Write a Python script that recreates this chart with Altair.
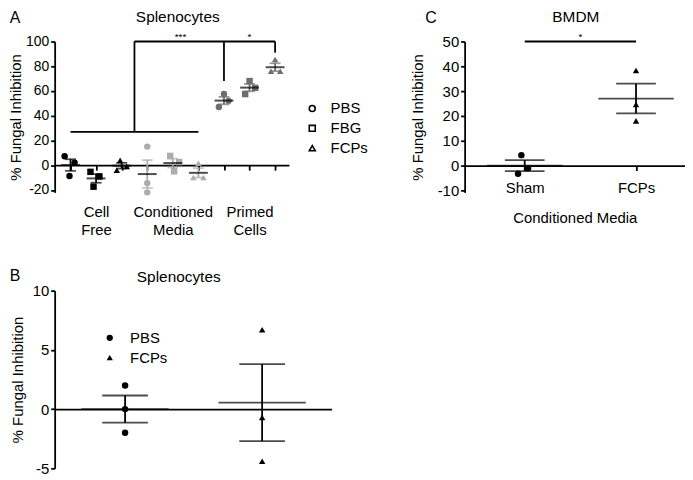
import altair as alt
import pandas as pd

FONT = "Liberation Sans"

# ---------------- Panel A : Splenocytes (3 x 3 groups) ----------------
a_categories = ["Cell Free", "Conditioned Media", "Primed Cells"]
a_cat_labels = [["Cell", "Free"], ["Conditioned", "Media"], ["Primed", "Cells"]]
a_treatments = ["PBS", "FBG", "FCPs"]
a_values = [[7.2, 2.0, -8.8], [-5.4, -9.2, -17.4], [3.9, -4.1, -1.0],
            [15.0, -14.5, -22.0], [7.5, 2.5, -5.0], [1.5, -10.0, -10.0],
            [57.5, 47.0, 52.0], [68.0, 57.5, 62.5], [85.5, 76.0, 76.0]]
a_jitter = [[-0.23, 0.16, -0.04], [-0.22, 0.13, -0.10], [-0.06, -0.19, 0.20],
            [0.0, 0.0, 0.0], [-0.10, 0.25, 0.05], [0.0, -0.20, 0.20],
            [0.0, -0.20, 0.18], [0.0, -0.17, 0.22], [0.0, -0.16, 0.20]]
a_mean = [0.1, -10.7, -0.4, -7.2, 1.7, -6.2, 52.2, 62.7, 79.2]
a_sem = [4.7, 3.5, 2.3, 11.3, 3.6, 3.8, 3.0, 3.0, 3.2]
a_brackets = [(1, 27, 6, 27), (3.5, 27, 3.5, 100), (3.5, 100, 9, 100),
              (7, 100, 7, 68), (9, 100, 9, 91)]
a_stars = [("***", 5.3, 100), ("*", 8.0, 100)]

# ---------------- Panel B : Splenocytes (PBS vs FCPs) ----------------
b_treatments = ["PBS", "FCPs"]
b_values = [[2.0, 0.0, -2.0], [6.7, -0.7, -4.4]]
b_mean = [0.0, 0.55]
b_sem = [1.15, 3.25]

# ---------------- Panel C : BMDM ----------------
c_groups = ["Sham", "FCPs"]
c_values = [[4.2, -3.3, -1.1], [38.3, 24.6, 18.0]]
c_jitter = [[-0.03, -0.06, 0.03], [0.0, 0.0, 0.0]]
c_mean = [0.0, 27.0]
c_sem = [2.2, 6.0]
c_brackets = [(1, 50, 2, 50)]
c_stars = [("*", 1.5, 50)]

LW = 1.8
PLAIN_LABEL = "'' + datum.value"   # plain hyphen minus, as in the original


def text_layer(text, x, y, size, baseline="middle"):
    return alt.Chart(pd.DataFrame({"t": [text]})).mark_text(
        fontSize=size, align="center", baseline=baseline, color="black", font=FONT
    ).encode(text="t:N", x=alt.value(x), y=alt.value(y))


def label_expr(positions, labels):
    expr = "''"
    for p, lab in reversed(list(zip(positions, labels))):
        if isinstance(lab, list):
            arr = "[" + ",".join("'" + s + "'" for s in lab) + "]"
        else:
            arr = "'" + lab + "'"
        expr = f"datum.value == {p} ? {arr} : ({expr})"
    return expr


def y_axis(values, title_pad, label_size):
    return alt.Axis(values=values, title="% Fungal Inhibition", titlePadding=title_pad,
                    titleFontSize=15, labelFontSize=label_size, tickSize=4, labelPadding=2,
                    grid=False, titleFontWeight="normal", labelExpr=PLAIN_LABEL)


# ======================= Panel A =======================
A_W, A_H = 236, 152
A_YD = [-22, 100]
A_OFF = -A_H * (0 - A_YD[0]) / (A_YD[1] - A_YD[0])
xA = alt.Scale(domain=[0.38, 9.54], nice=False, zero=False)
yA = alt.Scale(domain=A_YD, nice=False, zero=False)
colA = alt.Scale(domain=a_categories, range=["#000000", "#acacac", "#6e6e6e"])
shapeA = alt.Scale(domain=a_treatments, range=["circle", "square", "triangle-up"])
axXA = alt.Axis(values=list(range(1, 10)), offset=A_OFF, title=None, grid=False, tickSize=5,
                labelExpr=label_expr([2, 5, 8], a_cat_labels), labelPadding=35,
                labelFontSize=15, labelLineHeight=18, labelOverlap=False,
                labelFlush=False, labelBound=False)
axYA = y_axis([-20, 0, 20, 40, 60, 80, 100], 2, 14)

rows = []
for g in range(9):
    for v, j in zip(a_values[g], a_jitter[g]):
        rows.append({"pos": g + 1 + j, "val": v, "cat": a_categories[g // 3],
                     "trt": a_treatments[g % 3]})
dfA = pd.DataFrame(rows)
dfAs = pd.DataFrame({"pos": list(range(1, 10)), "mean": a_mean, "sem": a_sem,
                     "cat": [a_categories[g // 3] for g in range(9)]})
dfAb = pd.DataFrame(a_brackets, columns=["x", "y", "x2", "y2"])
dfAt = pd.DataFrame(a_stars, columns=["t", "x", "y"])


def XA(f):
    return alt.X(f, scale=xA, axis=axXA)


def YA(f):
    return alt.Y(f, scale=yA, axis=axYA)


colEncA = alt.Color("cat:N", scale=colA, legend=None)

ptsA = alt.Chart(dfA).mark_point(filled=True, size=42, opacity=1).encode(
    x=XA("pos:Q"), y=YA("val:Q"), color=colEncA,
    shape=alt.Shape("trt:N", scale=shapeA, legend=alt.Legend(
        title=None, orient="none", legendX=252, legendY=60, padding=0,
        labelFontSize=15, labelFont=FONT, labelOffset=11, rowPadding=4,
        symbolSize=36, symbolFillColor="white", symbolStrokeColor="black",
        symbolStrokeWidth=1.6)),
)
baseAs = alt.Chart(dfAs).transform_calculate(lo="datum.mean - datum.sem",
                                              hi="datum.mean + datum.sem")
whiskA = baseAs.mark_rule(strokeWidth=LW).encode(
    x=XA("pos:Q"), y=YA("lo:Q"), y2="hi:Q", color=colEncA)
capLoA = baseAs.mark_tick(orient="horizontal", size=11, thickness=LW).encode(
    x=XA("pos:Q"), y=YA("lo:Q"), color=colEncA)
capHiA = baseAs.mark_tick(orient="horizontal", size=11, thickness=LW).encode(
    x=XA("pos:Q"), y=YA("hi:Q"), color=colEncA)
meanA = baseAs.mark_tick(orient="horizontal", size=19, thickness=2, color="black").encode(
    x=XA("pos:Q"), y=YA("mean:Q"))
brA = alt.Chart(dfAb).mark_rule(strokeWidth=LW, color="black").encode(
    x=XA("x:Q"), x2="x2:Q", y=YA("y:Q"), y2="y2:Q")
stA = alt.Chart(dfAt).mark_text(fontSize=10, baseline="bottom", dy=0, color="black").encode(
    x=XA("x:Q"), y=YA("y:Q"), text="t:N")

panelA = alt.layer(
    ptsA, whiskA, capLoA, capHiA, meanA, brA, stA,
    text_layer("A", -40, -24, 16), text_layer("Splenocytes", 124, -25, 15.5),
).properties(width=A_W, height=A_H)

# ======================= Panel C =======================
C_W, C_H = 222, 152
C_YD = [-10.8, 50]
C_OFF = -C_H * (0 - C_YD[0]) / (C_YD[1] - C_YD[0])
xC = alt.Scale(domain=[0.46, 2.44], nice=False, zero=False)
yC = alt.Scale(domain=C_YD, nice=False, zero=False)
shapeC = alt.Scale(domain=c_groups, range=["circle", "triangle-up"])
axXC = alt.Axis(values=[1, 2], offset=C_OFF, title="Conditioned Media", titleFontSize=15,
                titlePadding=15, titleFontWeight="normal", grid=False, tickSize=5,
                labelExpr=label_expr([1, 2], c_groups), labelPadding=10, labelFontSize=15,
                labelFlush=False, labelBound=False)
axYC = y_axis([-10, 0, 10, 20, 30, 40, 50], 12, 15)

rows = []
for g in range(2):
    for v, j in zip(c_values[g], c_jitter[g]):
        rows.append({"pos": g + 1 + j, "val": v, "grp": c_groups[g]})
dfC = pd.DataFrame(rows)
dfCs = pd.DataFrame({"pos": [1, 2], "mean": c_mean, "sem": c_sem})
dfCb = pd.DataFrame(c_brackets, columns=["x", "y", "x2", "y2"])
dfCt = pd.DataFrame(c_stars, columns=["t", "x", "y"])


def XC(f):
    return alt.X(f, scale=xC, axis=axXC)


def YC(f):
    return alt.Y(f, scale=yC, axis=axYC)


ptsC = alt.Chart(dfC).mark_point(filled=True, size=42, opacity=1, color="black").encode(
    x=XC("pos:Q"), y=YC("val:Q"),
    shape=alt.Shape("grp:N", scale=shapeC, legend=None),
)
baseCs = alt.Chart(dfCs).transform_calculate(lo="datum.mean - datum.sem",
                                              hi="datum.mean + datum.sem")
whiskC = baseCs.mark_rule(strokeWidth=LW, color="black").encode(
    x=XC("pos:Q"), y=YC("lo:Q"), y2="hi:Q")
capLoC = baseCs.mark_tick(orient="horizontal", size=40, thickness=LW, color="black").encode(
    x=XC("pos:Q"), y=YC("lo:Q"))
capHiC = baseCs.mark_tick(orient="horizontal", size=40, thickness=LW, color="black").encode(
    x=XC("pos:Q"), y=YC("hi:Q"))
meanC = baseCs.mark_tick(orient="horizontal", size=76, thickness=LW, color="black").encode(
    x=XC("pos:Q"), y=YC("mean:Q"))
brC = alt.Chart(dfCb).mark_rule(strokeWidth=LW, color="black").encode(
    x=XC("x:Q"), x2="x2:Q", y=YC("y:Q"), y2="y2:Q")
stC = alt.Chart(dfCt).mark_text(fontSize=10, baseline="bottom", dy=0, color="black").encode(
    x=XC("x:Q"), y=YC("y:Q"), text="t:N")

panelC = alt.layer(
    ptsC, whiskC, capLoC, capHiC, meanC, brC, stC,
    text_layer("C", -34, -24, 16), text_layer("BMDM", 112, -25, 15.5),
).properties(width=C_W, height=C_H)

# ======================= Panel B =======================
B_W, B_H = 279, 179
B_YD = [-5, 10]
B_OFF = -B_H * (0 - B_YD[0]) / (B_YD[1] - B_YD[0])
xB = alt.Scale(domain=[0.486, 2.507], nice=False, zero=False)
yB = alt.Scale(domain=B_YD, nice=False, zero=False)
shapeB = alt.Scale(domain=b_treatments, range=["circle", "triangle-up"])
axXB = alt.Axis(offset=B_OFF, title=None, grid=False, ticks=False, labels=False)
axYB = y_axis([-5, 0, 5, 10], 7, 15)

rows = []
for g in range(2):
    for v in b_values[g]:
        rows.append({"pos": g + 1, "val": v, "trtB": b_treatments[g]})
dfB = pd.DataFrame(rows)
dfBs = pd.DataFrame({"pos": [1, 2], "mean": b_mean, "sem": b_sem})


def XB(f):
    return alt.X(f, scale=xB, axis=axXB)


def YB(f):
    return alt.Y(f, scale=yB, axis=axYB)


ptsB = alt.Chart(dfB).mark_point(filled=True, size=42, opacity=1, color="black").encode(
    x=XB("pos:Q"), y=YB("val:Q"),
    shape=alt.Shape("trtB:N", scale=shapeB, legend=alt.Legend(
        title=None, orient="none", legendX=48, legendY=40, padding=0,
        labelFontSize=15, labelFont=FONT, labelOffset=13, rowPadding=4, symbolSize=40)),
)
baseBs = alt.Chart(dfBs).transform_calculate(lo="datum.mean - datum.sem",
                                              hi="datum.mean + datum.sem")
whiskB = baseBs.mark_rule(strokeWidth=LW, color="black").encode(
    x=XB("pos:Q"), y=YB("lo:Q"), y2="hi:Q")
capLoB = baseBs.mark_tick(orient="horizontal", size=46, thickness=LW, color="black").encode(
    x=XB("pos:Q"), y=YB("lo:Q"))
capHiB = baseBs.mark_tick(orient="horizontal", size=46, thickness=LW, color="black").encode(
    x=XB("pos:Q"), y=YB("hi:Q"))
meanB = baseBs.mark_tick(orient="horizontal", size=88, thickness=LW, color="black").encode(
    x=XB("pos:Q"), y=YB("mean:Q"))

panelB = alt.layer(
    ptsB, whiskB, capLoB, capHiB, meanB,
    text_layer("B", -40, -15, 16), text_layer("Splenocytes", 125, -14, 15.5),
).properties(width=B_W, height=B_H)

chart = alt.concat(
    panelA, panelC, panelB, columns=2, spacing={"row": 30, "column": 42}, align="each"
).resolve_scale(
    x="independent", y="independent", shape="independent", color="independent"
).properties(padding=0).configure(font=FONT).configure_view(stroke=None).configure_axis(
    domainColor="black", tickColor="black", labelColor="black", titleColor="black",
    domainWidth=LW, tickWidth=LW, labelFont=FONT, titleFont=FONT
).configure_legend(labelColor="black")

chart.save("out.html", embed_options={"renderer": "svg", "actions": False})
